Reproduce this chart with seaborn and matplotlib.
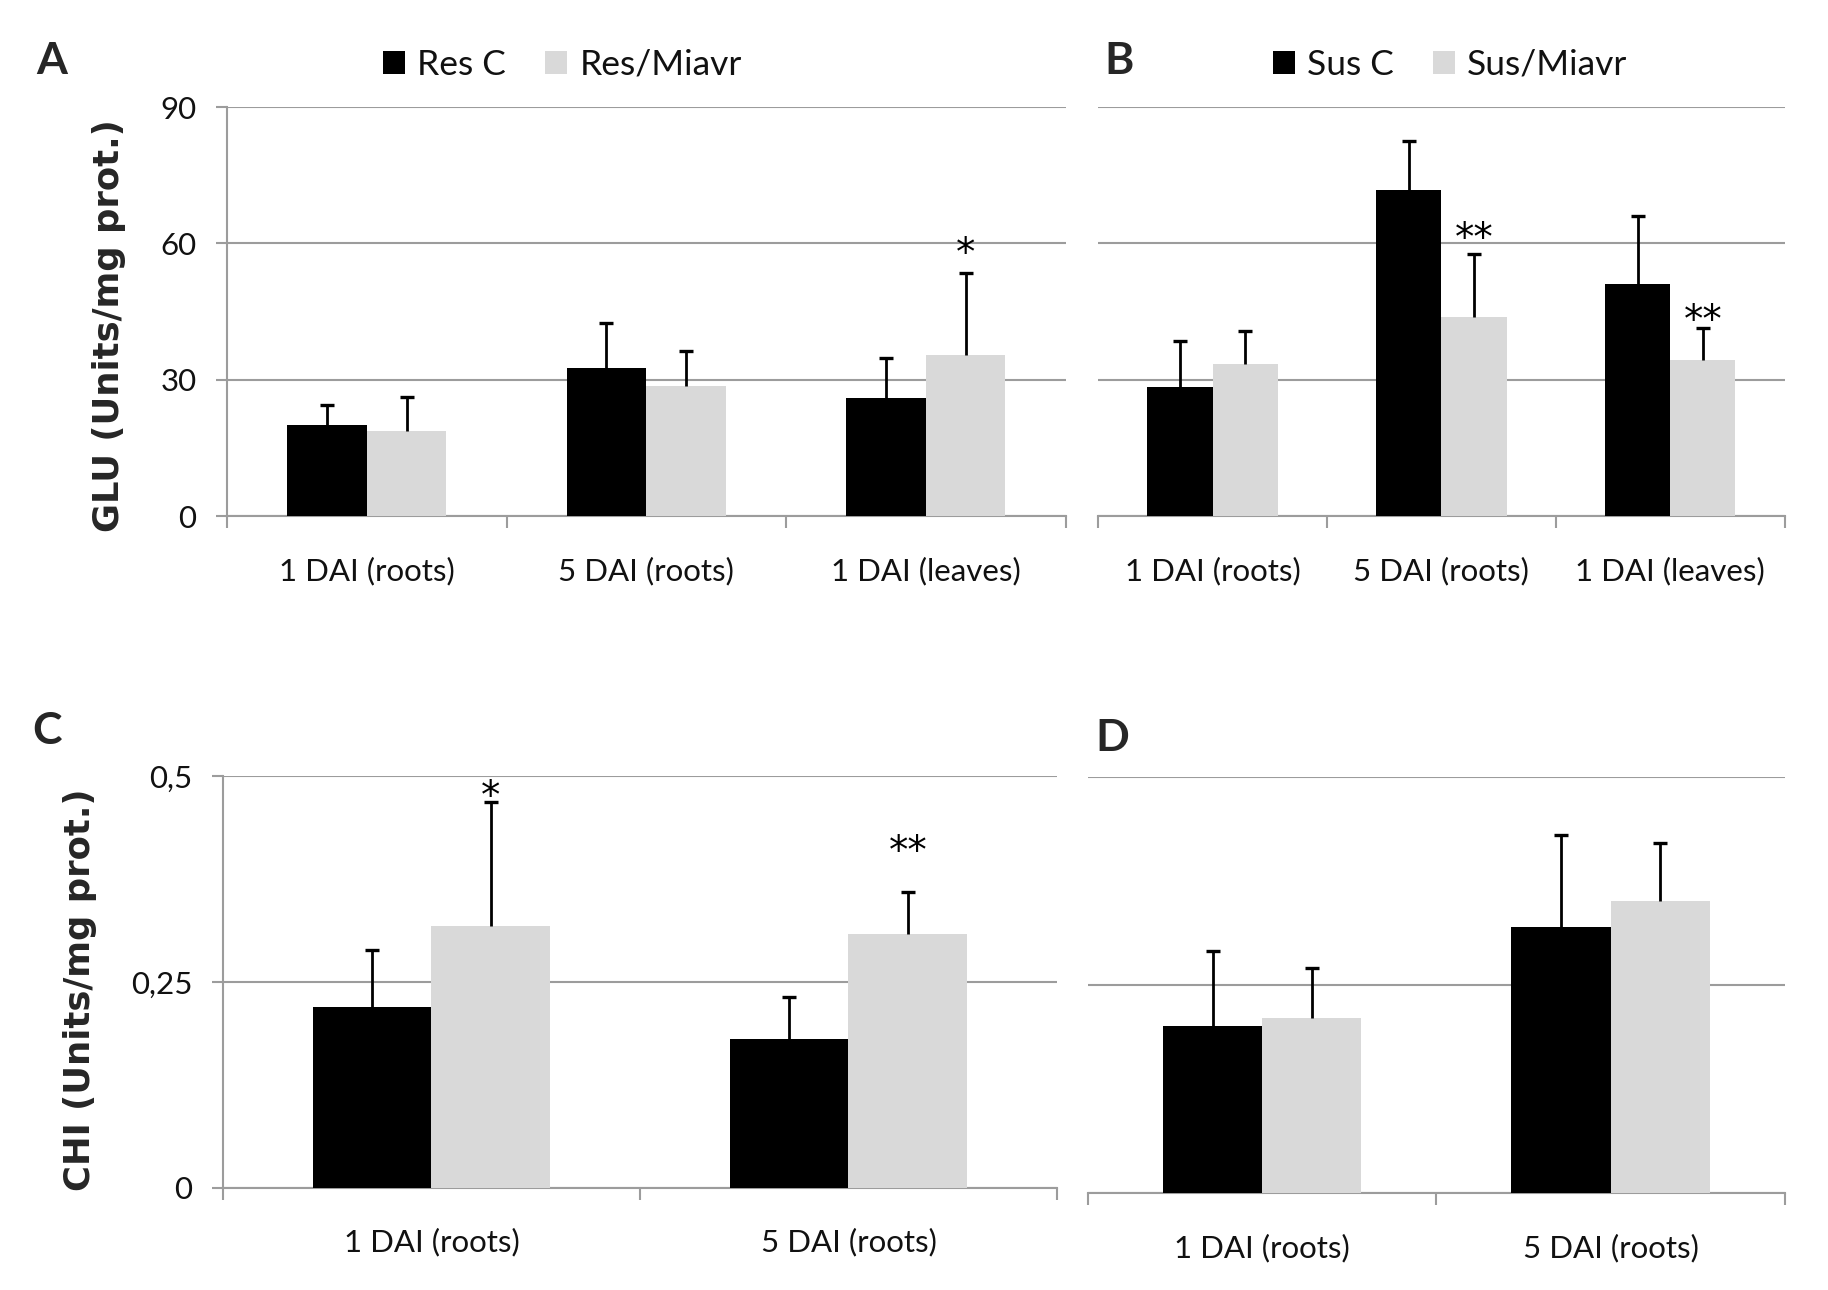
import numpy as np
import pandas as pd
import matplotlib
matplotlib.use("Agg")
import matplotlib.pyplot as plt
from matplotlib.patches import Patch
import seaborn as sns

# ---------------- data ----------------
cats3 = ["1 DAI (roots)", "5 DAI (roots)", "1 DAI (leaves)"]
cats2 = ["1 DAI (roots)", "5 DAI (roots)"]

# Panel A (GLU, resistant)
a_resC = [20.0, 32.5, 26.0]
a_resC_err = [4.4, 10.0, 8.8]
a_resM = [18.8, 28.7, 35.5]
a_resM_err = [7.4, 7.6, 17.9]
a_sig = ["", "", "*"]
a_sig_y = [0, 0, 60.0]

# Panel B (GLU, susceptible)
b_susC = [28.3, 71.7, 51.1]
b_susC_err = [10.3, 10.8, 15.0]
b_susM = [33.4, 43.9, 34.4]
b_susM_err = [7.4, 13.7, 7.0]
b_sig = ["", "**", "**"]
b_sig_y = [0, 63.3, 45.2]

# Panel C (CHI, resistant)
c_resC = [0.220, 0.181]
c_resC_err = [0.069, 0.051]
c_resM = [0.3185, 0.308]
c_resM_err = [0.151, 0.052]
c_sig = ["*", "**"]
c_sig_y = [0.4875, 0.421]

# Panel D (CHI, susceptible)
d_susC = [0.200, 0.319]
d_susC_err = [0.090, 0.111]
d_susM = [0.210, 0.351]
d_susM_err = [0.060, 0.069]
d_sig = ["", ""]
d_sig_y = [0, 0]

glu_ticks = [0, 30, 60, 90]
glu_ticklabels = ["0", "30", "60", "90"]
chi_ticks = [0, 0.25, 0.5]
chi_ticklabels = ["0", "0,25", "0,5"]

BLACK = "#000000"
LIGHT = "#d9d9d9"
GRID = "#9c9c9c"
TICKSIZE = 22.5

sns.set_theme(style="white")
plt.rcParams["font.family"] = ["Lato", "DejaVu Sans"]

fig = plt.figure(figsize=(18.28, 12.9), dpi=100)
axA = fig.add_axes([0.1242, 0.600, 0.4587, 0.317])
axB = fig.add_axes([0.6007, 0.600, 0.3756, 0.317])
axC = fig.add_axes([0.1220, 0.0791, 0.4562, 0.319])
axD = fig.add_axes([0.5952, 0.0752, 0.3811, 0.3228])


def panel(ax, cats, n1, v1, e1, n2, v2, e2, sig, sig_y, ylim, yt, ytl, show_y, pad):
    df = pd.DataFrame({
        "cat": list(cats) + list(cats),
        "val": list(v1) + list(v2),
        "grp": [n1] * len(cats) + [n2] * len(cats),
    })
    sns.barplot(data=df, x="cat", y="val", hue="grp", order=cats,
                hue_order=[n1, n2], palette=[BLACK, LIGHT], width=0.57,
                gap=0, errorbar=None, saturation=1, legend=False,
                linewidth=0, ax=ax, zorder=3)
    errs = [e1, e2]
    conts = list(ax.containers)[:2]
    for ci, cont in enumerate(conts):
        bars = list(cont.patches)
        xs = [b.get_x() + b.get_width() / 2 for b in bars]
        hs = [b.get_height() for b in bars]
        eb = ax.errorbar(xs, hs, yerr=[np.zeros(len(hs)), errs[ci]], fmt="none",
                         ecolor="black", elinewidth=2.0, capsize=5, capthick=2.4,
                         zorder=4)
        caplines = eb[1]
        if len(caplines) == 2:
            caplines[0].set_visible(False)
        if ci == 1:
            for x, s, y in zip(xs, sig, sig_y):
                if s:
                    ax.annotate(s, (x, y), xytext=(0, -7.5),
                                textcoords="offset points", ha="center",
                                va="center", fontsize=28, family="DejaVu Sans",
                                color="black", zorder=5)
    n = len(cats)
    ax.set_xlim(-0.5, n - 0.5)
    ax.set_ylim(*ylim)
    ax.set_yticks(yt)
    ax.yaxis.grid(True, color=GRID, linewidth=1.5)
    ax.xaxis.grid(False)
    ax.set_axisbelow(True)
    ax.set_xticks(np.arange(-0.5, n, 1.0), minor=True)
    ax.tick_params(axis="x", which="major", length=0, pad=pad,
                   labelsize=TICKSIZE, labelcolor="#111111")
    ax.tick_params(axis="x", which="minor", length=8.5, width=1.5,
                   color=GRID, direction="out", bottom=True)
    for s in ["top", "right"]:
        ax.spines[s].set_visible(False)
    ax.spines["bottom"].set_color(GRID)
    ax.spines["bottom"].set_linewidth(1.5)
    if show_y:
        ax.set_yticklabels(ytl)
        ax.spines["left"].set_color(GRID)
        ax.spines["left"].set_linewidth(1.5)
        ax.tick_params(axis="y", length=8, width=1.5, color=GRID, pad=14,
                       labelsize=TICKSIZE, labelcolor="#111111", left=True)
    else:
        ax.spines["left"].set_visible(False)
        ax.tick_params(axis="y", length=0, labelleft=False)
    ax.set_xlabel("")
    ax.set_ylabel("")


panel(axA, cats3, "Res C", a_resC, a_resC_err, "Res/Miavr", a_resM, a_resM_err,
      a_sig, a_sig_y, (0, 90), glu_ticks, glu_ticklabels, True, 29)
panel(axB, cats3, "Sus C", b_susC, b_susC_err, "Sus/Miavr", b_susM, b_susM_err,
      b_sig, b_sig_y, (0, 90), glu_ticks, glu_ticklabels, False, 29)
panel(axC, cats2, "Res C", c_resC, c_resC_err, "Res/Miavr", c_resM, c_resM_err,
      c_sig, c_sig_y, (0, 0.5), chi_ticks, chi_ticklabels, True, 29)
panel(axD, cats2, "Sus C", d_susC, d_susC_err, "Sus/Miavr", d_susM, d_susM_err,
      d_sig, d_sig_y, (0, 0.5), chi_ticks, chi_ticklabels, False, 29)

# legends
for ax, names, cx in [(axA, ["Res C", "Res/Miavr"], 562.5 / 1828),
                      (axB, ["Sus C", "Sus/Miavr"], 1450 / 1828)]:
    handles = [Patch(facecolor=BLACK, edgecolor="none", label=names[0]),
               Patch(facecolor=LIGHT, edgecolor="none", label=names[1])]
    ax.legend(handles=handles, ncol=2, loc="center", frameon=False,
              bbox_to_anchor=(cx, 1 - 65 / 1290), bbox_transform=fig.transFigure,
              fontsize=25.5, handlelength=0.62, handleheight=0.62,
              handletextpad=0.35, columnspacing=1.1, borderpad=0,
              labelcolor="#111111")

# axis titles
fig.text(109 / 1828, 1 - 326 / 1290, "GLU (Units/mg prot.)", rotation=90,
         ha="center", va="center", fontsize=25.5, fontweight="bold",
         family="DejaVu Sans")
fig.text(80 / 1828, 1 - 990 / 1290, "CHI (Units/mg prot.)", rotation=90,
         ha="center", va="center", fontsize=25.5, fontweight="bold",
         family="DejaVu Sans")

# panel letters
for lab, x, y in [("A", 51.5, 74), ("B", 1119, 74), ("C", 47.5, 744), ("D", 1112, 751)]:
    fig.text(x / 1828, 1 - y / 1290, lab, ha="center", va="baseline",
             fontsize=32, fontweight="bold")

fig.savefig("out.png", dpi=100)
